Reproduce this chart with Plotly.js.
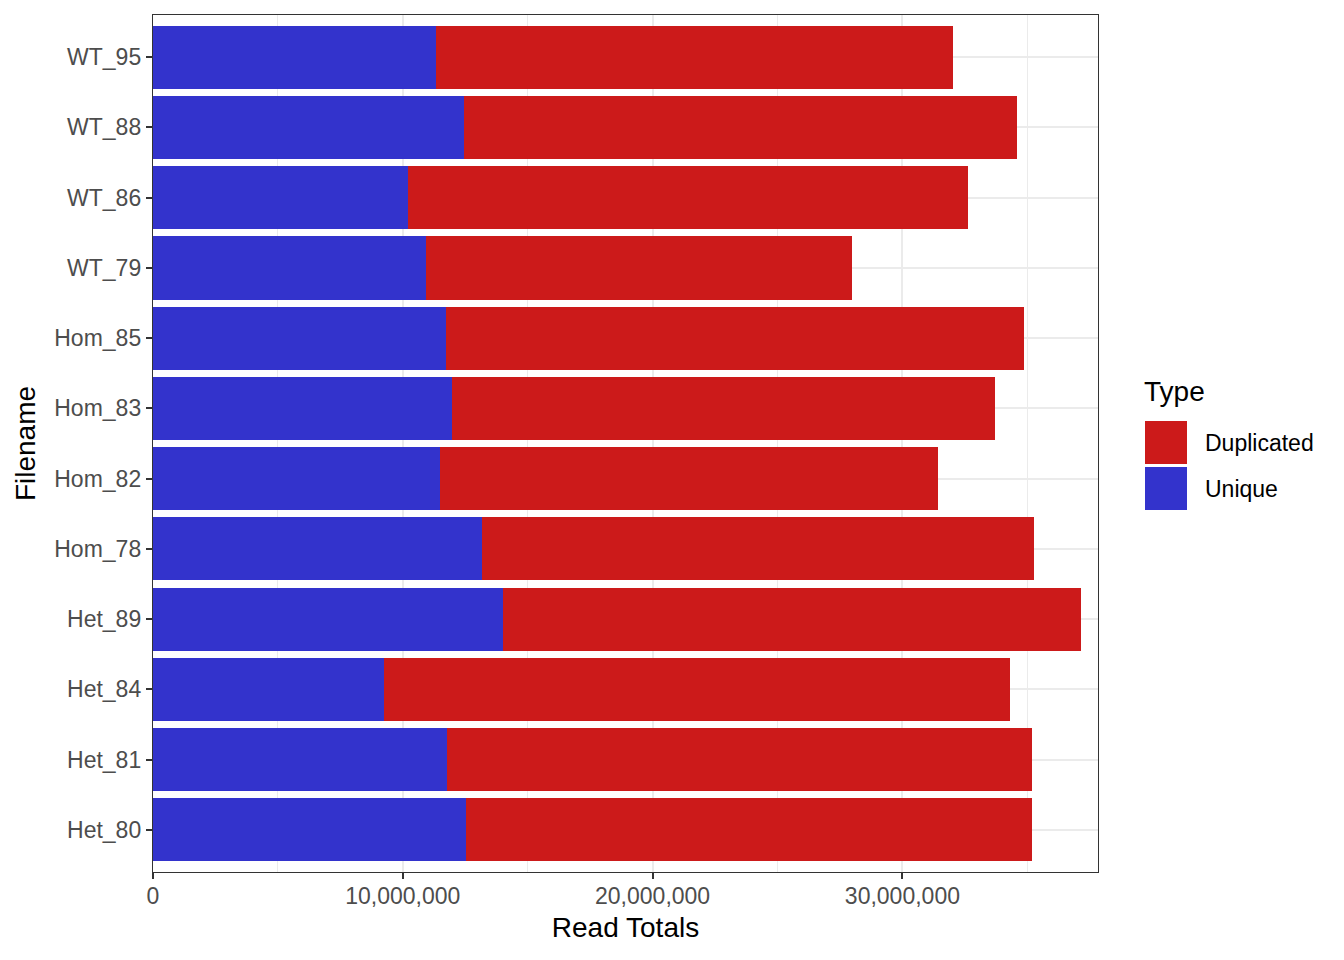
<!DOCTYPE html>
<html>
<head>
<meta charset="utf-8">
<script src="https://cdn.plot.ly/plotly-3.0.1.min.js"></script>
<style>
  html, body { margin: 0; padding: 0; background: #ffffff; }
  #chart { width: 1344px; height: 960px; }
</style>
</head>
<body>
<div id="chart"></div>
<script>
// ---- data ----
const filenames = ["Het_80", "Het_81", "Het_84", "Het_89", "Hom_78", "Hom_82",
                   "Hom_83", "Hom_85", "WT_79", "WT_86", "WT_88", "WT_95"];
const uniqueReads = [12540000, 11780000, 9260000, 14020000, 13180000, 11500000,
                     11980000, 11740000, 10940000, 10220000, 12460000, 11340000];
const duplicatedReads = [22640000, 23400000, 25040000, 23120000, 22080000, 19920000,
                         21720000, 23120000, 17040000, 22400000, 22120000, 20680000];
const typeLabels = ["Duplicated", "Unique"];
const xTickVals = [0, 10000000, 20000000, 30000000];
const xTickText = ["0", "10,000,000", "20,000,000", "30,000,000"];

// ---- styles ----
const RED = "#CC1A1A";
const BLUE = "#3333CC";
const FONT = "Liberation Sans, Arial, Helvetica, sans-serif";
const GRID = "#EBEBEB";
const AXIS = "#333333";
const TICKTXT = "#4D4D4D";

const traces = [
  {
    type: "bar", orientation: "h", name: typeLabels[1],
    y: filenames, x: uniqueReads,
    marker: { color: BLUE, line: { width: 0 } },
    hovertemplate: "%{y}: %{x:,d}<extra>Unique</extra>"
  },
  {
    type: "bar", orientation: "h", name: typeLabels[0],
    y: filenames, x: duplicatedReads,
    marker: { color: RED, line: { width: 0 } },
    hovertemplate: "%{y}: %{x:,d}<extra>Duplicated</extra>"
  }
];

// legend drawn in ggplot style (large square keys)
const px = (v) => (v - 153) / 945;      // horizontal pixel -> paper
const py = (v) => (872 - v) / 857;      // vertical pixel -> paper

const layout = {
  width: 1344, height: 960,
  margin: { l: 153, r: 246, t: 15, b: 88, pad: 0 },
  paper_bgcolor: "#ffffff", plot_bgcolor: "#ffffff",
  font: { family: FONT, color: "#000000" },
  barmode: "stack",
  bargap: 0.1,
  showlegend: false,
  xaxis: {
    range: [0, 37830000],
    tickmode: "array", tickvals: xTickVals, ticktext: xTickText,
    ticks: "outside", ticklen: 6, tickwidth: 1.6, tickcolor: AXIS,
    ticklabelstandoff: -3,
    tickfont: { family: FONT, size: 23, color: TICKTXT },
    showgrid: true, gridcolor: GRID, gridwidth: 2.4,
    minor: { tickmode: "array", tickvals: [5000000, 15000000, 25000000, 35000000],
             showgrid: true, gridcolor: GRID, gridwidth: 1.2, ticks: "" },
    showline: true, linecolor: AXIS, linewidth: 1.4, mirror: true,
    zeroline: false,
    title: { text: "Read Totals", font: { family: FONT, size: 28, color: "#000000" }, standoff: 9 },
    fixedrange: true
  },
  yaxis: {
    type: "category", categoryorder: "array", categoryarray: filenames,
    range: [-0.6, 11.6],
    ticks: "outside", ticklen: 6, tickwidth: 1.6, tickcolor: AXIS,
    tickfont: { family: FONT, size: 23, color: TICKTXT },
    showgrid: true, gridcolor: GRID, gridwidth: 2.4,
    showline: true, linecolor: AXIS, linewidth: 1.4, mirror: true,
    zeroline: false,
    title: { text: "Filename", font: { family: FONT, size: 28, color: "#000000" }, standoff: 10 },
    fixedrange: true
  },
  shapes: [
    { type: "rect", xref: "paper", yref: "paper",
      x0: px(1145), x1: px(1187), y0: py(464), y1: py(421),
      fillcolor: RED, line: { width: 0 } },
    { type: "rect", xref: "paper", yref: "paper",
      x0: px(1145), x1: px(1187), y0: py(510), y1: py(467),
      fillcolor: BLUE, line: { width: 0 } }
  ],
  annotations: [
    { xref: "paper", yref: "paper", x: px(1142), y: py(391), xanchor: "left", yanchor: "middle",
      text: "Type", showarrow: false, font: { family: FONT, size: 28, color: "#000000" } },
    { xref: "paper", yref: "paper", x: px(1203), y: py(443), xanchor: "left", yanchor: "middle",
      text: typeLabels[0], showarrow: false, font: { family: FONT, size: 23, color: "#000000" } },
    { xref: "paper", yref: "paper", x: px(1203), y: py(489), xanchor: "left", yanchor: "middle",
      text: typeLabels[1], showarrow: false, font: { family: FONT, size: 23, color: "#000000" } }
  ]
};

Plotly.newPlot("chart", traces, layout, { displayModeBar: false, staticPlot: false });
</script>
</body>
</html>
